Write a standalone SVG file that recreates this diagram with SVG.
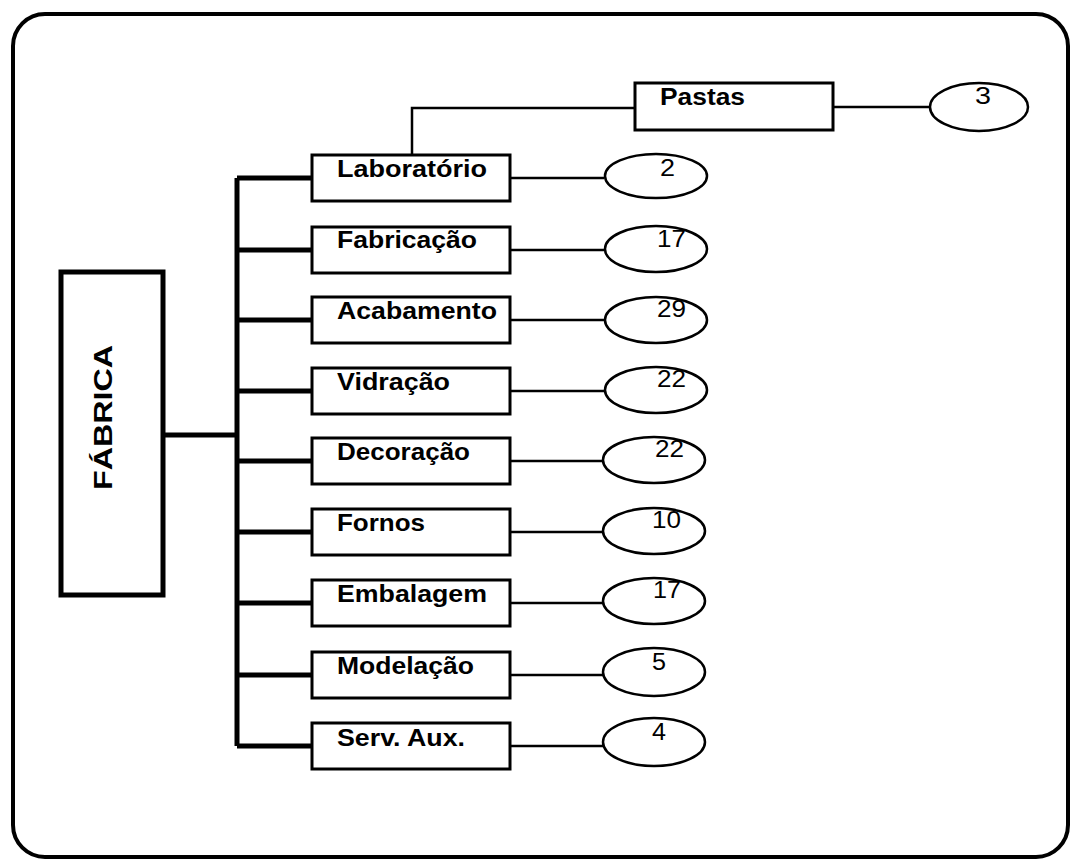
<svg xmlns="http://www.w3.org/2000/svg" width="1071" height="859" viewBox="0 0 1071 859">
  <style>
    .frame { fill: none; stroke: #000; stroke-width: 4; }
    .box { fill: #fff; stroke: #000; stroke-width: 3; }
    .main { fill: #fff; stroke: #000; stroke-width: 5; }
    .oval { fill: #fff; stroke: #000; stroke-width: 2.5; }
    .bus { fill: none; stroke: #000; stroke-width: 5; }
    .thin { fill: none; stroke: #000; stroke-width: 2.5; }
    .lbl { font-family: "Liberation Sans", Arial, sans-serif; font-weight: bold; font-size: 23px; fill: #000; }
    .num { font-family: "Liberation Sans", Arial, sans-serif; font-size: 23px; fill: #000; }
    .title { font-family: "Liberation Sans", Arial, sans-serif; font-weight: bold; font-size: 26px; fill: #000; }
  </style>

  <rect class="frame" x="13" y="14" width="1055" height="843" rx="32" ry="32"/>

  <!-- connectors -->
  <g id="connectors">
    <!-- trunk and bus -->
    <path class="bus" d="M163 435 H237"/>
    <path class="bus" d="M237 178 V746"/>
    <!-- branches to departments -->
    <path class="bus" d="M237 178 H312 M237 250 H312 M237 320 H312 M237 391 H312 M237 461 H312 M237 532 H312 M237 603 H312 M237 675 H312 M237 746 H312"/>
    <!-- departments to counts -->
    <path class="thin" d="M510 178 H604 M510 250 H604 M510 320 H604 M510 391 H604 M510 461 H604 M510 532 H604 M510 603 H604 M510 675 H604 M510 746 H604"/>
    <!-- Laboratório to Pastas -->
    <path class="thin" d="M412 155 V108 H635"/>
    <path class="thin" d="M833 107 H930"/>
  </g>

  <g id="fabrica">
    <rect class="main" x="61" y="272" width="102" height="323"/>
    <text class="title" transform="translate(112 490) rotate(-90)" textLength="145" lengthAdjust="spacingAndGlyphs">FÁBRICA</text>
  </g>

  <g id="laboratorio">
    <rect class="box" x="312" y="155" width="198" height="46"/>
    <text class="lbl" x="337" y="177" textLength="150" lengthAdjust="spacingAndGlyphs">Laboratório</text>
  </g>
  <g id="fabricacao">
    <rect class="box" x="312" y="227" width="198" height="46"/>
    <text class="lbl" x="337" y="248" textLength="140" lengthAdjust="spacingAndGlyphs">Fabricação</text>
  </g>
  <g id="acabamento">
    <rect class="box" x="312" y="297" width="198" height="46"/>
    <text class="lbl" x="337" y="319" textLength="160" lengthAdjust="spacingAndGlyphs">Acabamento</text>
  </g>
  <g id="vidracao">
    <rect class="box" x="312" y="368" width="198" height="46"/>
    <text class="lbl" x="337" y="390" textLength="113" lengthAdjust="spacingAndGlyphs">Vidração</text>
  </g>
  <g id="decoracao">
    <rect class="box" x="312" y="438" width="198" height="46"/>
    <text class="lbl" x="337" y="460" textLength="133" lengthAdjust="spacingAndGlyphs">Decoração</text>
  </g>
  <g id="fornos">
    <rect class="box" x="312" y="509" width="198" height="46"/>
    <text class="lbl" x="337" y="531" textLength="88" lengthAdjust="spacingAndGlyphs">Fornos</text>
  </g>
  <g id="embalagem">
    <rect class="box" x="312" y="580" width="198" height="46"/>
    <text class="lbl" x="337" y="602" textLength="150" lengthAdjust="spacingAndGlyphs">Embalagem</text>
  </g>
  <g id="modelacao">
    <rect class="box" x="312" y="652" width="198" height="46"/>
    <text class="lbl" x="337" y="674" textLength="137" lengthAdjust="spacingAndGlyphs">Modelação</text>
  </g>
  <g id="serv-aux">
    <rect class="box" x="312" y="723" width="198" height="46"/>
    <text class="lbl" x="337" y="746" textLength="128" lengthAdjust="spacingAndGlyphs">Serv. Aux.</text>
  </g>
  <g id="pastas">
    <rect class="box" x="635" y="83" width="198" height="47"/>
    <text class="lbl" x="660" y="105" textLength="85" lengthAdjust="spacingAndGlyphs">Pastas</text>
  </g>

  <!-- counts -->
  <g id="n-pastas">
    <ellipse class="oval" cx="979" cy="107" rx="49" ry="24"/>
    <text class="num" x="975" y="104" textLength="16" lengthAdjust="spacingAndGlyphs">3</text>
  </g>
  <g id="n-laboratorio">
    <ellipse class="oval" cx="656" cy="176" rx="51" ry="22"/>
    <text class="num" x="660" y="176" textLength="15" lengthAdjust="spacingAndGlyphs">2</text>
  </g>
  <g id="n-fabricacao">
    <ellipse class="oval" cx="656" cy="249" rx="51" ry="23"/>
    <text class="num" x="657" y="247" textLength="29" lengthAdjust="spacingAndGlyphs">17</text>
  </g>
  <g id="n-acabamento">
    <ellipse class="oval" cx="656" cy="320" rx="51" ry="23"/>
    <text class="num" x="657" y="317" textLength="29" lengthAdjust="spacingAndGlyphs">29</text>
  </g>
  <g id="n-vidracao">
    <ellipse class="oval" cx="656" cy="390" rx="51" ry="23"/>
    <text class="num" x="657" y="387" textLength="29" lengthAdjust="spacingAndGlyphs">22</text>
  </g>
  <g id="n-decoracao">
    <ellipse class="oval" cx="654" cy="460" rx="51" ry="23"/>
    <text class="num" x="655" y="457" textLength="29" lengthAdjust="spacingAndGlyphs">22</text>
  </g>
  <g id="n-fornos">
    <ellipse class="oval" cx="654" cy="531" rx="51" ry="23"/>
    <text class="num" x="652" y="528" textLength="29" lengthAdjust="spacingAndGlyphs">10</text>
  </g>
  <g id="n-embalagem">
    <ellipse class="oval" cx="654" cy="601" rx="51" ry="23"/>
    <text class="num" x="653" y="598" textLength="28" lengthAdjust="spacingAndGlyphs">17</text>
  </g>
  <g id="n-modelacao">
    <ellipse class="oval" cx="654" cy="672" rx="51" ry="24"/>
    <text class="num" x="652" y="670" textLength="14" lengthAdjust="spacingAndGlyphs">5</text>
  </g>
  <g id="n-serv-aux">
    <ellipse class="oval" cx="654" cy="742" rx="51" ry="24"/>
    <text class="num" x="652" y="740" textLength="14" lengthAdjust="spacingAndGlyphs">4</text>
  </g>
</svg>
